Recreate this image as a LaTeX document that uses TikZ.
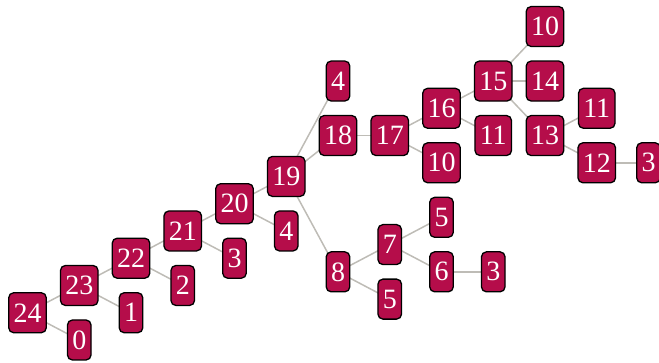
\documentclass[tikz,border=0pt]{standalone}
\usepackage{fontspec}
\setmainfont{Liberation Serif}
\usetikzlibrary{backgrounds}
\definecolor{nodefill}{RGB}{181,13,74}
\definecolor{edgegray}{RGB}{190,188,182}
\tikzset{
  tn/.style={draw=black, line width=1.3pt, fill=nodefill, rounded corners=5pt,
    text=white, font=\fontsize{28}{28}\selectfont, minimum height=40pt,
    inner xsep=4.8pt, inner ysep=0pt},
  ed/.style={draw=edgegray, line width=1.5pt}
}
\begin{document}
\begin{tikzpicture}
\useasboundingbox (0pt,0pt) rectangle (659pt,-362pt);
\begin{scope}[shift={(27.5pt,-26.5pt)}, x=51.75pt, y=-13.63pt]
\node[tn] (n24) at (0,21) {24};
\node[tn] (n0) at (1,23) {0};
\node[tn] (n23) at (1,19) {23};
\node[tn] (n1) at (2,21) {1};
\node[tn] (n22) at (2,17) {22};
\node[tn] (n2) at (3,19) {2};
\node[tn] (n21) at (3,15) {21};
\node[tn] (n3a) at (4,17) {3};
\node[tn] (n20) at (4,13) {20};
\node[tn] (n4a) at (5,15) {4};
\node[tn] (n19) at (5,11) {19};
\node[tn] (n18) at (6,8) {18};
\node[tn] (n4b) at (6,4) {4};
\node[tn] (n8) at (6,18) {8};
\node[tn] (n17) at (7,8) {17};
\node[tn] (n7) at (7,16) {7};
\node[tn] (n5b) at (7,20) {5};
\node[tn] (n16) at (8,6) {16};
\node[tn] (n10a) at (8,10) {10};
\node[tn] (n5a) at (8,14) {5};
\node[tn] (n6) at (8,18) {6};
\node[tn] (n3b) at (9,18) {3};
\node[tn] (n15) at (9,4) {15};
\node[tn] (n11a) at (9,8) {11};
\node[tn] (n10b) at (10,0) {10};
\node[tn] (n14) at (10,4) {14};
\node[tn] (n13) at (10,8) {13};
\node[tn] (n11b) at (11,6) {11};
\node[tn] (n12) at (11,10) {12};
\node[tn] (n3c) at (12,10) {3};
\end{scope}
\begin{scope}[on background layer]
\draw[ed] (n24.center) -- (n23.center);
\draw[ed] (n24.center) -- (n0.center);
\draw[ed] (n23.center) -- (n22.center);
\draw[ed] (n23.center) -- (n1.center);
\draw[ed] (n22.center) -- (n21.center);
\draw[ed] (n22.center) -- (n2.center);
\draw[ed] (n21.center) -- (n20.center);
\draw[ed] (n21.center) -- (n3a.center);
\draw[ed] (n20.center) -- (n19.center);
\draw[ed] (n20.center) -- (n4a.center);
\draw[ed] (n19.center) -- (n18.center);
\draw[ed] (n19.center) -- (n4b.center);
\draw[ed] (n19.center) -- (n8.center);
\draw[ed] (n18.center) -- (n17.center);
\draw[ed] (n17.center) -- (n16.center);
\draw[ed] (n17.center) -- (n10a.center);
\draw[ed] (n16.center) -- (n15.center);
\draw[ed] (n16.center) -- (n11a.center);
\draw[ed] (n15.center) -- (n10b.center);
\draw[ed] (n15.center) -- (n14.center);
\draw[ed] (n15.center) -- (n13.center);
\draw[ed] (n13.center) -- (n11b.center);
\draw[ed] (n13.center) -- (n12.center);
\draw[ed] (n12.center) -- (n3c.center);
\draw[ed] (n8.center) -- (n7.center);
\draw[ed] (n8.center) -- (n5b.center);
\draw[ed] (n7.center) -- (n5a.center);
\draw[ed] (n7.center) -- (n6.center);
\draw[ed] (n6.center) -- (n3b.center);
\end{scope}
\end{tikzpicture}
\end{document}
